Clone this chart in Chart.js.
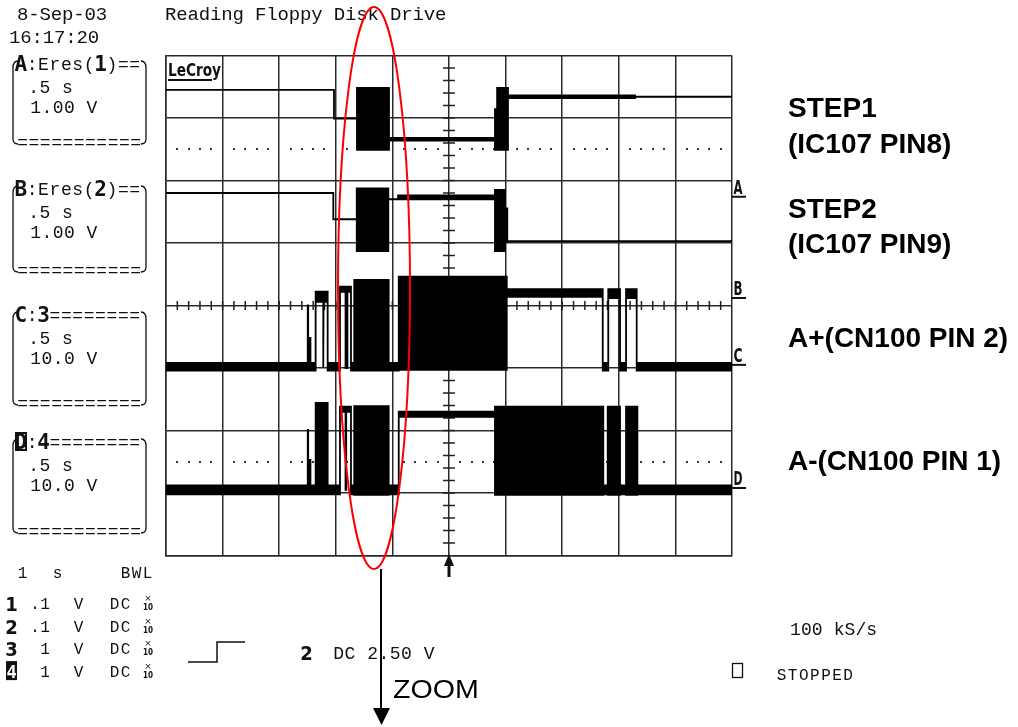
<!DOCTYPE html>
<html>
<head>
<meta charset="utf-8">
<script src="https://cdn.jsdelivr.net/npm/chart.js@4.4.0/dist/chart.umd.min.js"></script>
<style>
  html, body { margin: 0; padding: 0; background: #fff; }
  canvas { display: block; }
</style>
</head>
<body>
<canvas id="scope" width="1018" height="727"></canvas>
<script>
// time in seconds (0.5 s/div, trigger at 0), levels in screen divisions
// each trace = upper and lower envelope over the same time points

// A: STEP1 (IC107 PIN8)
const aTime = [-2.5, -1.016, -1.016, -0.813, -0.813, -0.530, -0.530, 0.406, 0.406, 0.425, 0.425, 0.521, 0.521, 1.643, 1.643, 2.5];
const aHigh = [3.45, 3.45, 2.99, 2.99, 3.48, 3.48, 2.68, 2.68, 3.14, 3.14, 3.48, 3.48, 3.36, 3.36, 3.34, 3.34];
const aLow  = [3.45, 3.45, 2.99, 2.99, 2.49, 2.49, 2.64, 2.64, 2.49, 2.49, 2.49, 2.49, 3.32, 3.32, 3.34, 3.34];

// B: STEP2 (IC107 PIN9)
const bTime = [-2.5, -1.022, -1.022, -0.815, -0.815, -0.536, -0.536, -0.45, -0.45, 0.406, 0.406, 0.494, 0.494, 0.515, 0.515, 2.5];
const bHigh = [1.80, 1.80, 1.38, 1.38, 1.875, 1.875, 1.70, 1.70, 1.76, 1.76, 1.85, 1.85, 1.555, 1.555, 1.03, 1.03];
const bLow  = [1.80, 1.80, 1.38, 1.38, 0.87, 0.87, 1.70, 1.70, 1.70, 1.70, 0.87, 0.87, 1.02, 1.02, 1.03, 1.03];

// C: A+ (CN100 PIN 2)
const cTime = [-2.5, -1.248, -1.248, -1.244, -1.244, -1.230, -1.230, -1.224, -1.224, -1.178, -1.178, -1.112, -1.112, -1.108, -1.108, -1.072, -1.072,
  -0.963, -0.963, -0.914, -0.914, -0.897, -0.897, -0.866, -0.866, -0.837, -0.837, -0.533, -0.533, -0.444, -0.444, 0.510, 0.510,
  1.358, 1.358, 1.407, 1.407, 1.511, 1.511, 1.564, 1.564, 1.658, 1.658, 2.5];
const cHigh = [-0.92, -0.92, 0.0, 0.0, -0.92, -0.92, -0.52, -0.52, -0.92, -0.92, 0.22, 0.22, 0.22, 0.22, 0.22, 0.22, -0.92,
  -0.92, 0.30, 0.30, 0.30, 0.30, 0.30, 0.30, -0.92, -0.92, 0.41, 0.41, -0.92, -0.92, 0.46, 0.46, 0.26,
  0.26, -0.92, -0.92, 0.26, 0.26, -0.92, -0.92, 0.26, 0.26, -0.92, -0.92];
const cLow  = [-1.04, -1.04, -1.04, -1.04, -1.04, -1.04, -1.04, -1.04, -1.04, -1.04, 0.06, 0.06, -1.0, -1.0, 0.06, 0.06, -1.04,
  -1.04, 0.22, 0.22, -1.0, -1.0, 0.22, 0.22, -1.04, -1.04, -1.04, -1.04, -1.04, -1.04, -1.03, -1.03, 0.14,
  0.14, -1.04, -1.04, 0.12, 0.12, -1.04, -1.04, 0.12, 0.12, -1.04, -1.04];

// D: A- (CN100 PIN 1)
const dTime = [-2.5, -1.248, -1.248, -1.244, -1.244, -1.230, -1.230, -1.224, -1.224, -1.178, -1.178, -1.072, -1.072,
  -0.963, -0.963, -0.914, -0.914, -0.908, -0.908, -0.866, -0.866, -0.837, -0.837, -0.533, -0.533, -0.444, -0.444, 0.406, 0.406,
  1.363, 1.363, 1.402, 1.402, 1.511, 1.511, 1.564, 1.564, 1.664, 1.664, 2.5];
const dHigh = [-2.88, -2.88, -1.99, -1.99, -2.88, -2.88, -2.47, -2.47, -2.88, -2.88, -1.56, -1.56, -2.88,
  -2.88, -1.62, -1.62, -1.62, -1.62, -1.62, -1.62, -2.88, -2.88, -1.61, -1.61, -2.88, -2.88, -1.70, -1.70, -1.62,
  -1.62, -2.88, -2.88, -1.62, -1.62, -2.88, -2.88, -1.62, -1.62, -2.88, -2.88];
const dLow  = [-3.02, -3.02, -3.02, -3.02, -3.02, -3.02, -3.02, -3.02, -3.02, -3.02, -3.02, -3.02, -3.02,
  -3.02, -1.70, -1.70, -2.95, -2.95, -1.70, -1.70, -3.02, -3.02, -3.03, -3.03, -3.02, -3.02, -1.78, -1.78, -3.03,
  -3.03, -3.02, -3.02, -3.03, -3.03, -3.02, -3.02, -3.03, -3.03, -3.02, -3.02];

// ground markers on the right edge (divisions)
const markerNames = ['A', 'B', 'C', 'D'];
const markerLevels = [1.74, 0.12, -0.95, -2.92];

const traceLabels = [
  ['STEP1', 117], ['(IC107 PIN8)', 153], ['STEP2', 218], ['(IC107 PIN9)', 253],
  ['A+(CN100 PIN 2)', 347], ['A-(CN100 PIN 1)', 470]
];

function outline(time, high, low) {
  const top = time.map((t, i) => ({ x: t, y: high[i] }));
  const bottom = time.map((t, i) => ({ x: t, y: low[i] })).reverse();
  return top.concat(bottom);
}

function traceSet(label, time, high, low) {
  return {
    label,
    data: outline(time, high, low),
    borderColor: '#000',
    backgroundColor: '#000',
    borderWidth: 1.8,
    pointRadius: 0,
    tension: 0,
    fill: 'shape'
  };
}

const MONO = '"Liberation Mono", "DejaVu Sans Mono", monospace';

function mono(ctx, str, x, y, size, pitch, boldAt) {
  ctx.textAlign = 'center';
  ctx.textBaseline = 'alphabetic';
  for (let i = 0; i < str.length; i++) {
    const bold = boldAt && boldAt.includes(i);
    ctx.font = bold ? 'bold ' + (size + 3) + 'px "DejaVu Sans Mono"' : size + 'px ' + MONO;
    ctx.fillText(str[i], x + pitch * i + pitch / 2, y + (bold ? 1 : 0));
  }
}

function box(ctx, tY, bY) {
  ctx.lineWidth = 1.3;
  ctx.strokeStyle = '#111';
  ctx.beginPath();
  ctx.moveTo(18, tY - 3); ctx.quadraticCurveTo(13, tY - 3, 13, tY + 4);
  ctx.lineTo(13, bY - 4); ctx.quadraticCurveTo(13, bY + 1, 18, bY + 1);
  ctx.moveTo(141, tY - 3); ctx.quadraticCurveTo(146, tY - 3, 146, tY + 4);
  ctx.lineTo(146, bY - 4); ctx.quadraticCurveTo(146, bY + 1, 141, bY + 1);
  ctx.stroke();
}

const scopeScreen = {
  id: 'scopeScreen',
  beforeDatasetsDraw(chart) {
    const { ctx, scales: { x, y } } = chart;
    const cx = x.getPixelForValue(0);
    const cy = y.getPixelForValue(0);
    ctx.save();
    ctx.strokeStyle = '#222';
    ctx.lineWidth = 1.5;
    ctx.beginPath();
    for (let k = -19; k <= 19; k++) {
      const py = y.getPixelForValue(k / 5);
      ctx.moveTo(cx - 6, py); ctx.lineTo(cx + 6, py);
    }
    for (let k = -24; k <= 24; k++) {
      const px = x.getPixelForValue(k / 10);
      ctx.moveTo(px, cy - 4.5); ctx.lineTo(px, cy + 4.5);
    }
    ctx.stroke();
    // dotted rows
    ctx.fillStyle = '#333';
    [2.5, -2.5].forEach(lv => {
      const py = Math.round(y.getPixelForValue(lv));
      for (let d = -2.5; d < 2.5; d += 0.5) {
        for (let k = 1; k <= 4; k++) {
          const px = Math.round(x.getPixelForValue(d + k * 0.1));
          ctx.fillRect(px - 1, py - 1, 2, 2);
        }
      }
    });
    ctx.restore();
  },
  afterDraw(chart) {
    const { ctx, chartArea: a, scales: { x, y } } = chart;
    ctx.save();
    ctx.fillStyle = '#111';

    // header
    mono(ctx, '8-Sep-03', 17, 20, 19, 11.25);
    mono(ctx, '16:17:20', 9, 43, 19, 11.25);
    mono(ctx, 'Reading Floppy Disk Drive', 165, 20, 19, 11.25);

    // LeCroy logo
    ctx.font = 'bold 17px "DejaVu Sans Condensed", "DejaVu Sans"';
    ctx.textAlign = 'left';
    ctx.fillText('LeCroy', 168, 76, 53);
    ctx.fillRect(168, 79, 44, 2);

    // channel boxes
    const boxes = [
      ['A:Eres(1)==', '.5 s', '1.00 V', 64, 143],
      ['B:Eres(2)==', '.5 s', '1.00 V', 189, 271],
      ['C:3========', '.5 s', '10.0 V', 315, 404],
      ['D:4========', '.5 s', '10.0 V', 442, 532]
    ];
    boxes.forEach(([title, tb, vd, tY, bY], i) => {
      box(ctx, tY, bY);
      const bolds = i < 2 ? [0, 7] : [0, 2];
      if (i === 3) {
        ctx.fillRect(15, tY - 10, 12, 19);
        ctx.fillStyle = '#fff';
        ctx.fillRect(17, tY - 8, 8, 15);
        ctx.fillStyle = '#111';
      }
      mono(ctx, title, 15, tY + 6, 18, 11.4, bolds);
      mono(ctx, tb, 28, tY + 29, 18, 11.25);
      mono(ctx, vd, 30, tY + 49, 18, 11.25);
      mono(ctx, '===========', 17, bY + 5, 18, 11.3);
    });

    // bottom settings
    mono(ctx, '1', 17, 578, 16, 11);
    mono(ctx, 's', 52, 578, 16, 11);
    mono(ctx, 'BWL', 120, 578, 16, 11);
    const rows = [['1', '.1'], ['2', '.1'], ['3', ' 1'], ['4', ' 1']];
    rows.forEach(([ch, vd], i) => {
      const by = 609 + i * 22.7;
      if (i === 3) {
        ctx.fillRect(6, by - 16, 11, 19);
        ctx.fillStyle = '#fff';
        ctx.font = 'bold 17px "DejaVu Sans Mono"';
        ctx.textAlign = 'center';
        ctx.fillText(ch, 11.5, by + 1);
        ctx.fillStyle = '#111';
      } else {
        ctx.font = 'bold 20px "DejaVu Sans Condensed"';
        ctx.textAlign = 'center';
        ctx.fillText(ch, 11.5, by + 2);
      }
      mono(ctx, vd, 30, by, 16, 10);
      mono(ctx, 'V', 73, by, 16, 11);
      mono(ctx, 'DC', 109, by, 16, 11);
      ctx.font = '9px "DejaVu Sans"';
      ctx.textAlign = 'center';
      ctx.fillText('\u00d7', 148, by - 8);
      ctx.font = 'bold 8px "DejaVu Sans Condensed"';
      ctx.fillText('10', 148, by + 1);
    });

    // trigger setting
    ctx.strokeStyle = '#111';
    ctx.lineWidth = 1.5;
    ctx.beginPath();
    ctx.moveTo(188, 662); ctx.lineTo(217, 662); ctx.lineTo(217, 642); ctx.lineTo(245, 642);
    ctx.stroke();
    ctx.font = 'bold 20px "DejaVu Sans Condensed"';
    ctx.textAlign = 'center';
    ctx.fillText('2', 306.5, 660);
    mono(ctx, 'DC 2.50 V', 333, 659, 18, 11.3);
    mono(ctx, '100 kS/s', 790, 635, 18, 10.9);
    mono(ctx, 'STOPPED', 776, 680, 16, 11.1);
    ctx.lineWidth = 1.3;
    ctx.strokeRect(732.5, 663.5, 10, 14);

    // trigger position arrow
    const tx = x.getPixelForValue(0);
    ctx.fillRect(tx - 1.5, 562, 3, 15);
    ctx.beginPath();
    ctx.moveTo(tx - 5, 566); ctx.lineTo(tx + 5, 566); ctx.lineTo(tx, 554);
    ctx.closePath(); ctx.fill();

    // ground markers
    markerNames.forEach((n, i) => {
      const py = y.getPixelForValue(markerLevels[i]);
      ctx.fillRect(a.right, py - 1, 14, 2);
      ctx.font = 'bold 20px "DejaVu Sans Condensed"';
      ctx.textAlign = 'center';
      ctx.fillText(n, a.right + 6, py - 3, 9);
    });

    // annotations
    ctx.fillStyle = '#000';
    ctx.font = 'bold 28px "Liberation Sans", Arial, sans-serif';
    ctx.textAlign = 'left';
    traceLabels.forEach(([txt, by]) => ctx.fillText(txt, 788, by));

    ctx.strokeStyle = '#ff0000';
    ctx.lineWidth = 2;
    ctx.beginPath();
    ctx.ellipse(374, 288, 36, 281, 0, 0, Math.PI * 2);
    ctx.stroke();

    ctx.strokeStyle = '#000';
    ctx.lineWidth = 2;
    ctx.beginPath();
    ctx.moveTo(381, 569); ctx.lineTo(381, 710);
    ctx.stroke();
    ctx.beginPath();
    ctx.moveTo(373, 708); ctx.lineTo(390, 708); ctx.lineTo(381.5, 725);
    ctx.closePath(); ctx.fill();
    ctx.save();
    ctx.translate(393, 698);
    ctx.scale(1.1, 1);
    ctx.font = '26px "Liberation Sans", Arial, sans-serif';
    ctx.fillText('ZOOM', 0, 0);
    ctx.restore();
    ctx.restore();
  }
};

const gridColor = '#2a2a2a';

new Chart(document.getElementById('scope'), {
  type: 'line',
  data: {
    datasets: [
      traceSet('A', aTime, aHigh, aLow),
      traceSet('B', bTime, bHigh, bLow),
      traceSet('C', cTime, cHigh, cLow),
      traceSet('D', dTime, dHigh, dLow)
    ]
  },
  options: {
    responsive: false,
    animation: false,
    layout: { padding: { left: 166, top: 55.5, right: 286, bottom: 171.5 } },
    plugins: { legend: { display: false }, tooltip: { enabled: false } },
    scales: {
      x: {
        type: 'linear', min: -2.5, max: 2.5,
        ticks: { display: false, stepSize: 0.5 },
        grid: { color: gridColor, lineWidth: 1.5, drawTicks: false },
        border: { color: gridColor, width: 1.5 }
      },
      y: {
        min: -4, max: 4,
        ticks: { display: false, stepSize: 1 },
        grid: { color: gridColor, lineWidth: 1.5, drawTicks: false },
        border: { color: gridColor, width: 1.5 }
      }
    }
  },
  plugins: [scopeScreen]
});
</script>
</body>
</html>
